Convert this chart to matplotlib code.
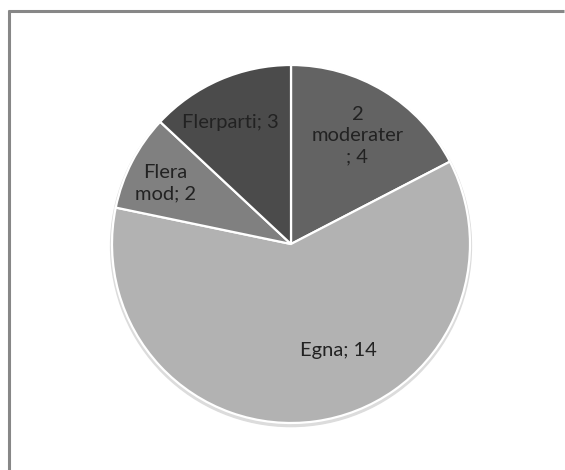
import matplotlib
matplotlib.use("Agg")
import matplotlib.pyplot as plt
from matplotlib.lines import Line2D
import numpy as np

labels = ["2\nmoderater\n; 4", "Egna; 14", "Flera\nmod; 2", "Flerparti; 3"]
values = [4, 14, 2, 3]
colors = ["#636363", "#b2b2b2", "#808080", "#4b4b4b"]
# label placement (radius fraction, angle in degrees) relative to pie center
label_r = [0.71, 0.65, 0.78, 0.76]
label_ang = [58.5, -66, 154, 116.5]

W, H = 565, 470
fig = plt.figure(figsize=(W / 100, H / 100), dpi=100)
fig.patch.set_facecolor("white")

cx, cy, r = 291, 244, 179
ax = fig.add_axes([(cx - r) / W, (H - cy - r) / H, 2 * r / W, 2 * r / H])

# subtle shadow
shadow = plt.Circle((0, -0.012), 1.008, color="#dcdcdc", zorder=0, clip_on=False)
ax.add_patch(shadow)

wedges, _ = ax.pie(values, colors=colors, startangle=90, counterclock=False,
                   radius=1, wedgeprops=dict(edgecolor="white", linewidth=1.6))
for w in wedges:
    w.set_zorder(1)
    w.set_clip_on(False)

ax.set_xlim(-1, 1)
ax.set_ylim(-1, 1)
ax.set_aspect("equal")
ax.axis("off")

for lab, rr, a in zip(labels, label_r, label_ang):
    t = np.deg2rad(a)
    ax.text(rr * np.cos(t), rr * np.sin(t), lab, ha="center", va="center",
            fontsize=14.5, family=["Lato", "DejaVu Sans"], color="#222222",
            linespacing=1.3, zorder=3)

# outer frame (top and left visible)
lw = 2.2
fig.add_artist(Line2D([9 / W, 9 / W], [0, 1 - 10 / H], color="#878787", lw=lw,
                      transform=fig.transFigure, solid_capstyle="butt"))
fig.add_artist(Line2D([8 / W, 564 / W], [1 - 11 / H, 1 - 11 / H], color="#878787", lw=lw,
                      transform=fig.transFigure, solid_capstyle="butt"))

fig.savefig("out.png", dpi=100, facecolor="white")
